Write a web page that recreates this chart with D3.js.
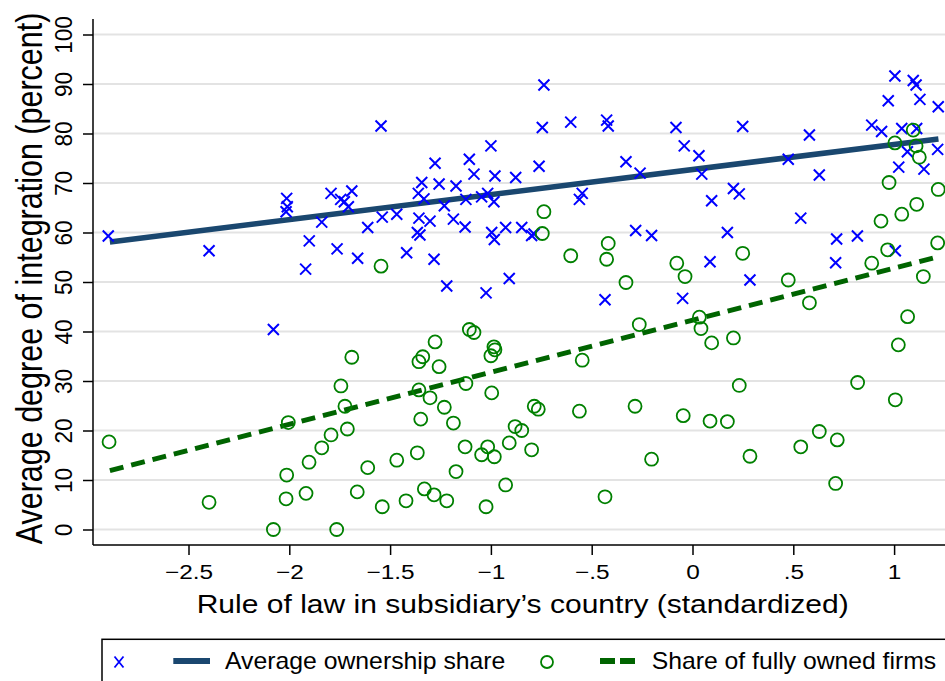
<!DOCTYPE html>
<html>
<head>
<meta charset="utf-8">
<script src="https://cdn.jsdelivr.net/npm/d3@7"></script>
<style>
  html, body { margin: 0; padding: 0; background: #fff; }
  svg { display: block; font-family: "Liberation Sans", Arial, Helvetica, sans-serif; }
</style>
</head>
<body>
<svg id="chart" width="945" height="681"></svg>
<script>
// Rule of law (standardized) and average ownership share, one entry per country
const ruleOwn = [-2.898,-2.398,-1.545,-2.013,-2.010,-2.016,-1.901,-1.919,-1.839,-1.793,-1.763,-1.745,-1.727,-1.707,-1.690,-1.661,-1.611,-1.539,-1.467,-1.418,-1.343,-1.360,-1.332,-1.357,-1.365,-1.352,-1.302,-1.282,-1.277,-1.257,-1.231,-1.219,-1.186,-1.173,-1.128,-1.124,-1.107,-1.084,-1.046,-1.024,-1.016,-1.000,-0.980,-0.985,-0.996,-0.983,-0.927,-0.909,-0.877,-0.847,-0.798,-0.786,-0.761,-0.745,-0.737,-0.604,-0.561,-0.547,-0.434,-0.426,-0.418,-0.330,-0.260,-0.282,-0.203,-0.082,-0.041,0.032,0.046,-0.049,0.087,0.095,0.173,0.203,0.232,0.249,0.285,0.475,0.537,0.580,0.629,0.715,0.710,0.818,0.889,0.938,0.971,1.004,1.038,1.023,1.006,1.066,1.095,1.109,1.112,1.128,1.148,1.219,1.216,-2.079];
const ownershipShare = [59.3,56.3,81.5,66.9,65.2,64.2,58.3,52.6,62.1,67.9,56.7,66.7,66.2,65.2,68.4,54.8,61.0,63.1,63.7,55.9,70.1,67.9,66.8,62.9,60.0,59.5,62.3,54.6,74.0,69.8,65.4,49.2,62.7,69.4,61.1,66.7,74.8,71.8,67.2,47.8,67.9,77.5,71.4,66.2,60.0,58.6,61.0,50.7,71.1,61.0,59.4,59.7,73.4,81.2,89.8,82.3,66.7,67.9,46.4,82.7,81.5,74.3,72.0,60.4,59.4,81.2,77.5,75.5,71.8,46.7,54.1,66.4,60.0,68.9,67.8,81.4,50.4,74.8,62.9,79.7,71.6,58.7,53.9,59.3,81.7,80.4,86.6,91.6,81.0,73.2,56.3,76.3,90.7,89.8,81.0,86.9,72.8,85.4,76.8,40.4];

// Rule of law (standardized) and share of fully owned firms
const ruleFull = [-2.894,-2.398,-2.079,-2.016,-2.013,-2.005,-1.917,-1.902,-1.839,-1.793,-1.765,-1.744,-1.724,-1.712,-1.690,-1.663,-1.611,-1.539,-1.545,-1.467,-1.421,-1.365,-1.357,-1.338,-1.357,-1.348,-1.330,-1.302,-1.282,-1.277,-1.257,-1.231,-1.219,-1.186,-1.173,-1.128,-1.124,-1.107,-1.084,-1.046,-1.024,-1.016,-0.996,-1.000,-0.985,-0.980,-0.983,-0.927,-0.909,-0.880,-0.847,-0.798,-0.785,-0.765,-0.737,-0.745,-0.604,-0.561,-0.547,-0.418,-0.426,-0.434,-0.330,-0.285,-0.264,-0.203,-0.078,-0.037,-0.046,0.034,0.042,0.095,0.203,0.232,0.087,0.173,0.285,0.249,0.475,0.580,0.537,0.629,0.718,0.710,0.819,0.889,0.935,0.968,0.975,1.004,1.006,1.021,1.067,1.038,1.095,1.109,1.112,1.125,1.145,1.219,1.216];
const fullyOwnedShare = [17.7,5.5,0.0,6.2,11.0,21.6,7.3,13.6,16.5,19.1,0.0,29.0,24.9,20.3,34.8,7.6,12.5,4.6,53.2,14.0,5.8,15.5,33.9,34.9,28.2,22.3,8.2,26.6,7.0,37.9,32.9,24.7,5.8,21.5,11.7,16.7,29.5,40.4,39.8,15.1,4.6,16.7,27.6,35.1,36.9,36.3,14.7,9.0,17.5,20.8,20.0,16.1,24.9,24.3,64.2,59.8,55.3,23.9,34.2,57.8,54.6,6.6,49.9,24.9,41.4,14.2,53.8,51.1,23.0,42.9,40.6,37.7,38.7,29.1,21.9,21.8,14.8,55.8,50.4,45.8,16.7,19.8,18.1,9.3,29.7,53.8,62.3,56.5,70.1,78.1,26.2,37.3,43.0,63.7,80.7,77.5,65.7,75.2,51.1,68.7,57.9];

// Linear fits, evaluated at the ends of the data range
const fitRule = [-2.89, 1.22];
const ownershipFit = [58.1, 78.9];
const fullyOwnedFit = [11.9, 55.1];

// Axis ticks
const xTicks = [-2.5, -2, -1.5, -1, -0.5, 0, 0.5, 1];
const xTickLabels = ["\u22122.5", "\u22122", "\u22121.5", "\u22121", "\u2212.5", "0", ".5", "1"];
const yTicks = [0, 10, 20, 30, 40, 50, 60, 70, 80, 90, 100];

const svg = d3.select("#chart");
svg.append("rect").attr("width", 945).attr("height", 681).attr("fill", "#fff");

const x = d3.scaleLinear().domain([-2.5, 1]).range([188.5, 894.1]);
const y = d3.scaleLinear().domain([0, 100]).range([529.5, 34.5]);

const plotLeft = 93, plotRight = 960, plotTop = 19, plotBottom = 545;

// Widen or narrow a text run horizontally while keeping its glyph height
function stretchText(sel, factor) {
  sel.each(function () {
    const w = this.getComputedTextLength();
    d3.select(this).attr("textLength", w * factor).attr("lengthAdjust", "spacingAndGlyphs");
  });
}

// Horizontal grid
svg.append("g").selectAll("line").data(yTicks).join("line")
  .attr("x1", plotLeft).attr("x2", plotRight)
  .attr("y1", d => y(d)).attr("y2", d => y(d))
  .attr("stroke", "#e3e3e3").attr("stroke-width", 2);

// Fitted lines
const fitLine = d3.line().x(d => x(d[0])).y(d => y(d[1]));
svg.append("path")
  .datum(fitRule.map((r, i) => [r, ownershipFit[i]]))
  .attr("d", fitLine).attr("fill", "none")
  .attr("stroke", "#1a476f").attr("stroke-width", 5.5);
svg.append("path")
  .datum(fitRule.map((r, i) => [r, fullyOwnedFit[i]]))
  .attr("d", fitLine).attr("fill", "none")
  .attr("stroke", "#006400").attr("stroke-width", 5)
  .attr("stroke-dasharray", "14,8");

// Markers: crosses for ownership share, hollow circles for fully owned share
const crossPath = "M-5.5,-5.5L5.5,5.5M-5.5,5.5L5.5,-5.5";
svg.append("g").selectAll("path").data(ruleOwn.map((r, i) => [r, ownershipShare[i]])).join("path")
  .attr("transform", d => `translate(${x(d[0])},${y(d[1])})`)
  .attr("d", crossPath).attr("stroke", "#0000ff").attr("stroke-width", 2).attr("fill", "none");

svg.append("g").selectAll("circle").data(ruleFull.map((r, i) => [r, fullyOwnedShare[i]])).join("circle")
  .attr("cx", d => x(d[0])).attr("cy", d => y(d[1])).attr("r", 6.5)
  .attr("fill", "none").attr("stroke", "#008000").attr("stroke-width", 1.8);

// Axes
const xAxis = d3.axisBottom(x).tickValues(xTicks)
  .tickFormat((d, i) => xTickLabels[i]).tickSize(10);
const gx = svg.append("g").attr("transform", `translate(0,${plotBottom})`).call(xAxis);
gx.select(".domain").remove();
gx.selectAll("line").attr("stroke", "#000").attr("stroke-width", 1.5);
gx.selectAll("text")
  .attr("font-size", 20).attr("fill", "#000")
  .attr("font-family", "Liberation Sans, Arial, sans-serif")
  .attr("dy", null).attr("y", 34.3);
stretchText(gx.selectAll("text"), 1.22);

const yAxis = d3.axisLeft(y).tickValues(yTicks).tickSize(10);
const gy = svg.append("g").attr("transform", `translate(${plotLeft},0)`).call(yAxis);
gy.select(".domain").remove();
gy.selectAll("line").attr("stroke", "#000").attr("stroke-width", 1.5);
gy.selectAll("text")
  .attr("font-size", 24).attr("fill", "#000")
  .attr("font-family", "Liberation Sans, Arial, sans-serif")
  .attr("x", null).attr("dy", null).attr("y", 0)
  .attr("text-anchor", "middle")
  .attr("transform", "translate(-21.3,0) rotate(-90)");
stretchText(gy.selectAll("text"), 0.94);

svg.append("line").attr("x1", plotLeft).attr("x2", plotLeft)
  .attr("y1", plotTop).attr("y2", plotBottom).attr("stroke", "#000").attr("stroke-width", 1.5);
svg.append("line").attr("x1", plotLeft).attr("x2", plotRight)
  .attr("y1", plotBottom).attr("y2", plotBottom).attr("stroke", "#000").attr("stroke-width", 1.5);

// Axis titles
svg.append("text").attr("x", 196.7).attr("y", 613.3)
  .attr("font-size", 25.6).attr("fill", "#000")
  .attr("textLength", 652).attr("lengthAdjust", "spacingAndGlyphs")
  .text("Rule of law in subsidiary\u2019s country (standardized)");
// Vertical title: sized to its run length, glyphs drawn taller across the run
svg.append("text").attr("transform", "translate(41.5,278.5) rotate(-90) scale(1,1.21)")
  .attr("text-anchor", "middle")
  .attr("font-size", 30.5).attr("fill", "#000")
  .text("Average degree of integration (percent)");

// Legend
const lg = svg.append("g");
lg.append("rect").attr("x", 102).attr("y", 639.3).attr("width", 880).attr("height", 70)
  .attr("fill", "#fff").attr("stroke", "#000").attr("stroke-width", 1.5);
lg.append("path").attr("transform", "translate(119,662)")
  .attr("d", "M-4.5,-5.5L4.5,5.5M-4.5,5.5L4.5,-5.5").attr("stroke", "#0000ff").attr("stroke-width", 1.8);
lg.append("line").attr("x1", 173.3).attr("x2", 210).attr("y1", 661).attr("y2", 661)
  .attr("stroke", "#1a476f").attr("stroke-width", 6);
lg.append("text").attr("x", 225).attr("y", 669).attr("font-size", 24).attr("fill", "#000")
  .attr("textLength", 280.4).attr("lengthAdjust", "spacingAndGlyphs")
  .text("Average ownership share");
lg.append("circle").attr("cx", 547).attr("cy", 662).attr("r", 6)
  .attr("fill", "none").attr("stroke", "#008000").attr("stroke-width", 1.8);
lg.append("line").attr("x1", 600).attr("x2", 635).attr("y1", 661).attr("y2", 661)
  .attr("stroke", "#006400").attr("stroke-width", 6).attr("stroke-dasharray", "15,5");
lg.append("text").attr("x", 651.7).attr("y", 669).attr("font-size", 24).attr("fill", "#000")
  .attr("textLength", 284.5).attr("lengthAdjust", "spacingAndGlyphs")
  .text("Share of fully owned firms");
</script>
</body>
</html>
